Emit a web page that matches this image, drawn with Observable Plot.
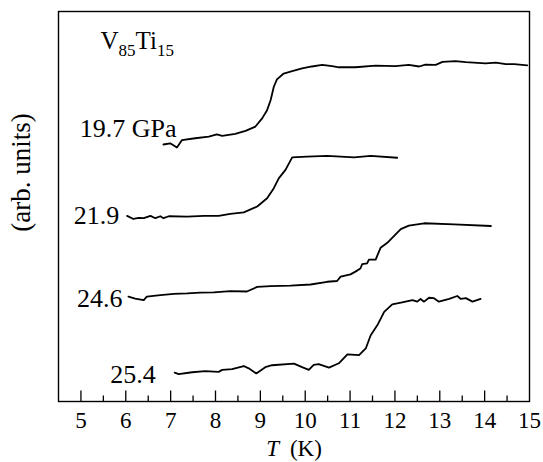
<!DOCTYPE html>
<html>
<head>
<meta charset="utf-8">
<script src="https://cdn.jsdelivr.net/npm/d3@7"></script>
<script src="https://cdn.jsdelivr.net/npm/@observablehq/plot@0.6"></script>
<style>
  html, body { margin: 0; padding: 0; background: #fff; }
  #chart { width: 543px; height: 462px; }
  #chart svg text, #chart svg tspan { font-family: "Liberation Serif", "Times New Roman", Tinos, "Nimbus Roman", "DejaVu Serif", serif !important; }
</style>
</head>
<body>
<div id="chart"></div>
<script>
// ---- data ----
const seriesLabels = ["19.7 GPa", "21.9", "24.6", "25.4"];
const sampleName = "V85Ti15";
const xAxisLabel = "T (K)";
const yAxisLabel = "(arb. units)";
const majorTicks = [5, 6, 7, 8, 9, 10, 11, 12, 13, 14, 15];
const minorTicks = [5.5, 6.5, 7.5, 8.5, 9.5, 10.5, 11.5, 12.5, 13.5, 14.5];

// 19.7 GPa
const t1 = [6.84,6.99,7.14,7.25,7.55,7.85,8.03,8.15,8.44,8.67,8.89,9.04,9.15,9.23,9.30,9.37,9.52,9.71,9.93,10.15,10.38,10.60,10.75,11.12,11.57,12.01,12.31,12.54,12.68,12.91,13.06,13.35,13.58,14.02,14.25,14.47,14.66,14.95];
const v1 = [65.9,66.2,65.1,67.0,67.5,67.9,68.5,68.1,68.6,69.4,70.5,72.6,74.7,77.3,80.7,82.6,84.1,84.7,85.4,85.9,86.3,86.0,85.7,85.7,86.1,86.0,86.3,85.9,86.4,86.3,87.1,87.3,87.0,86.7,86.9,86.5,86.5,86.2];
// 21.9 GPa
const t2 = [6.03,6.17,6.29,6.40,6.55,6.66,6.77,6.84,6.96,7.37,7.74,8.07,8.33,8.63,8.93,9.15,9.30,9.41,9.56,9.71,10.04,10.49,11.09,11.46,12.05];
const v2 = [47.6,46.8,47.1,47.0,47.6,47.0,47.5,47.0,47.5,47.4,47.6,47.6,48.1,48.5,50.0,52.1,54.7,57.2,59.4,62.6,62.8,63.0,62.6,63.0,62.5];
// 24.6 GPa
const t3 = [6.06,6.21,6.40,6.47,6.77,7.07,7.37,7.66,7.96,8.33,8.70,8.93,9.23,9.67,10.12,10.49,10.71,10.79,11.01,11.12,11.23,11.27,11.38,11.42,11.57,11.68,11.83,12.13,12.31,12.65,13.32,14.14];
const v3 = [26.9,26.4,26.0,26.9,27.3,27.6,27.7,27.9,28.0,28.3,28.2,29.4,29.6,29.7,30.0,30.7,30.9,32.0,32.6,33.3,34.1,35.2,35.4,36.4,36.4,39.4,40.7,44.2,45.1,45.7,45.4,45.0];
// 25.4 GPa
const t4 = [7.09,7.18,7.48,7.77,8.07,8.15,8.37,8.63,8.74,8.91,9.11,9.26,9.75,9.93,10.08,10.19,10.30,10.53,10.75,10.94,11.20,11.35,11.46,11.61,11.76,11.94,12.16,12.39,12.50,12.57,12.65,12.76,12.87,12.98,13.21,13.39,13.47,13.58,13.73,13.91];
const v4 = [7.4,7.0,7.5,7.8,7.6,8.1,8.3,9.1,8.5,7.2,8.8,9.3,9.7,8.8,8.1,9.4,9.6,8.7,9.8,12.1,11.9,13.6,17.0,19.6,23.0,24.9,25.4,26.0,25.6,26.3,25.6,26.6,26.5,25.6,26.3,27.05,26.3,26.5,25.6,26.3];

// ---- build table ----
const temps = [t1, t2, t3, t4];
const vals = [v1, v2, v3, v4];
const rows = [];
seriesLabels.forEach((s, i) => {
  const n = Math.min(temps[i].length, vals[i].length);
  for (let k = 0; k < n; ++k) rows.push({series: s, T: temps[i][k], v: vals[i][k]});
});
const starts = seriesLabels.map(s => rows.find(r => r.series === s));

// ---- styling ----
const FONT = "'Liberation Serif', 'DejaVu Serif', serif";
const labelStyle = [
  {dx: 13, dy: -16},
  {dx: -8, dy: 0},
  {dx: -6, dy: 2.5},
  {dx: -19, dy: 2.5}
];
const frameH = 462 - 11 - 61;

const plot = Plot.plot({
  width: 543,
  height: 462,
  marginTop: 11,
  marginBottom: 61,
  marginLeft: 58,
  marginRight: 14,
  style: {background: "white", color: "black"},
  x: {domain: [4.5, 15], axis: null},
  y: {domain: [0, 100], axis: null},
  marks: [
    Plot.frame({stroke: "black", strokeWidth: 1.4}),
    Plot.ruleX(majorTicks.filter(d => d < 15), {x: d => d, stroke: "black", strokeWidth: 1.3, insetTop: frameH - 10.5}),
    Plot.ruleX(minorTicks, {x: d => d, stroke: "black", strokeWidth: 1.3, insetTop: frameH - 5.5}),
    Plot.text(majorTicks, {x: d => d, text: d => String(d), frameAnchor: "bottom", lineAnchor: "middle", textAnchor: "middle", dy: 19.5, fontSize: 23, fill: "black"}),
    Plot.line(rows, {x: "T", y: "v", z: "series", stroke: "black", strokeWidth: 1.8, strokeLinejoin: "round"}),
    ...starts.map((d, i) => Plot.text([d], {
      x: "T", y: "v", text: "series", textAnchor: "end", lineAnchor: "middle",
      dx: labelStyle[i].dx, dy: labelStyle[i].dy, fontSize: 26, fill: "black"
    })),
    Plot.text([sampleName], {frameAnchor: "top-left", text: d => d, textAnchor: "start", lineAnchor: "middle", dx: 42, dy: 29, fontSize: 25, fill: "black"}),
    Plot.text([xAxisLabel], {frameAnchor: "bottom", text: d => d, textAnchor: "middle", lineAnchor: "middle", dy: 47, fontSize: 23, fill: "black"}),
    Plot.text([yAxisLabel], {frameAnchor: "left", text: d => d, textAnchor: "middle", lineAnchor: "middle", rotate: -90, dx: -37, dy: -34, fontSize: 27, fill: "black"})
  ]
});

// serif font applied directly to every text element
plot.querySelectorAll("text").forEach(el => el.setAttribute("style", "font-family: 'Liberation Serif', 'DejaVu Serif', serif"));

// rich text: subscripts and italic T
const NS = "http://www.w3.org/2000/svg";
function tspan(txt, attrs) {
  const t = document.createElementNS(NS, "tspan");
  t.textContent = txt;
  for (const k in attrs) t.setAttribute(k, attrs[k]);
  return t;
}
plot.querySelectorAll("text").forEach(el => {
  if (el.textContent === sampleName) {
    el.textContent = "";
    el.appendChild(tspan("V", {}));
    el.appendChild(tspan("85", {"font-size": 17, dy: 7}));
    el.appendChild(tspan("Ti", {dy: -7}));
    el.appendChild(tspan("15", {"font-size": 17, dy: 7}));
  } else if (el.textContent === xAxisLabel) {
    el.textContent = "";
    el.appendChild(tspan("T", {"font-style": "italic"}));
    el.appendChild(tspan("(K)", {dx: 11}));
  }
});
document.getElementById("chart").appendChild(plot);
</script>
</body>
</html>
